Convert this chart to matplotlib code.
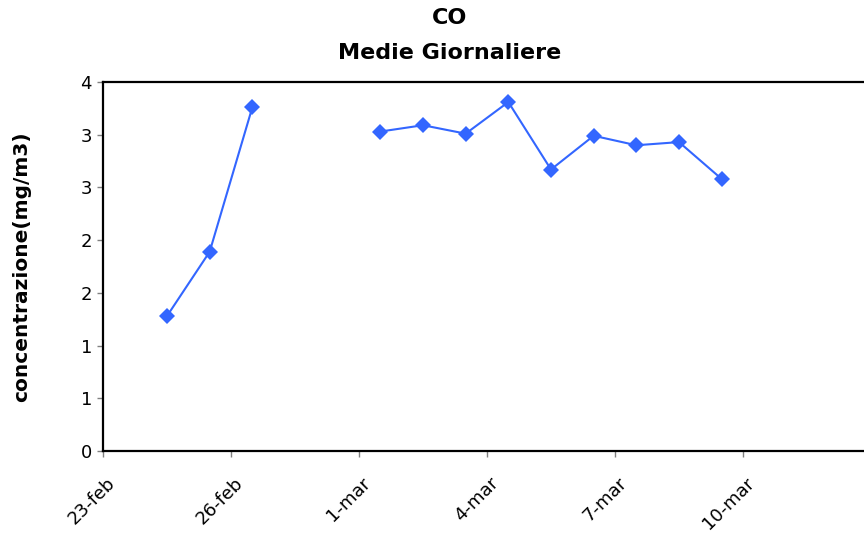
from __future__ import annotations

import matplotlib

matplotlib.use("Agg")
import matplotlib.dates as mdates
import matplotlib.pyplot as plt
import matplotlib.transforms as mtransforms
import numpy as np
import pandas as pd
from matplotlib.ticker import FixedLocator, FuncFormatter


days = [
    "2009-02-24", "2009-02-25", "2009-02-26", "2009-02-27", "2009-02-28",
    "2009-03-01", "2009-03-02", "2009-03-03", "2009-03-04", "2009-03-05",
    "2009-03-06", "2009-03-07", "2009-03-08", "2009-03-09",
]
co_values = [
    1.28, 1.89, 3.26, np.nan, np.nan,
    3.03, 3.09, 3.01, 3.31, 2.67,
    2.99, 2.90, 2.93, 2.58,
]
tick_days = ["2009-02-23", "2009-02-26", "2009-03-01", "2009-03-04", "2009-03-07", "2009-03-10"]
tick_labels = ["23-feb", "26-feb", "1-mar", "4-mar", "7-mar", "10-mar"]
x_range = ["2009-02-23", "2009-03-13"]

BLUE = "#3366FF"

plt.rcParams["font.family"] = ["DejaVu Sans"]

fig = plt.figure(figsize=(8.64, 5.37), dpi=100)
W, H = 864, 537
left, right, top, bottom = 103, 871, 82, 451
ax = fig.add_axes([left / W, 1 - bottom / H, (right - left) / W, (bottom - top) / H])

# Excel plots daily points in the middle of each day slot
x = mdates.date2num(pd.to_datetime(days)) + 0.5
ax.plot(x, co_values, color=BLUE, linewidth=1.5, marker="D", markersize=8,
        markeredgewidth=0, markerfacecolor=BLUE)

ax.set_xlim(*mdates.date2num(pd.to_datetime(x_range)))
ax.set_ylim(0, 3.5)

ax.xaxis.set_major_locator(FixedLocator(mdates.date2num(pd.to_datetime(tick_days))))
ax.set_xticklabels(tick_labels, rotation=45, ha="right", va="center", rotation_mode="anchor")
ax.yaxis.set_major_locator(FixedLocator(np.arange(0, 3.51, 0.5)))
ax.yaxis.set_major_formatter(FuncFormatter(lambda v, _: f"{int(v + 0.5)}"))

ax.tick_params(axis="both", direction="out", length=4, width=1, color="#808080", labelsize=13)
ax.tick_params(axis="x", pad=17)
ax.tick_params(axis="y", pad=4)

shift = mtransforms.ScaledTranslation(9 / 100, 0, fig.dpi_scale_trans)
for label in ax.get_xticklabels():
    label.set_transform(label.get_transform() + shift)

for side in ("left", "bottom", "top"):
    ax.spines[side].set_linewidth(1.6)
    ax.spines[side].set_color("black")
ax.spines["right"].set_visible(False)

ax.set_ylabel("concentrazione(mg/m3)", fontsize=14.5, fontweight="bold")
ax.yaxis.set_label_coords((31 - left) / (right - left), 0.5)

fig.text(450 / W, 1 - 18 / H, "CO", ha="center", va="center", fontsize=16, fontweight="bold")
fig.text(450 / W, 1 - 53 / H, "Medie Giornaliere", ha="center", va="center",
         fontsize=16, fontweight="bold")

fig.savefig("out.png", dpi=100)
plt.close(fig)
